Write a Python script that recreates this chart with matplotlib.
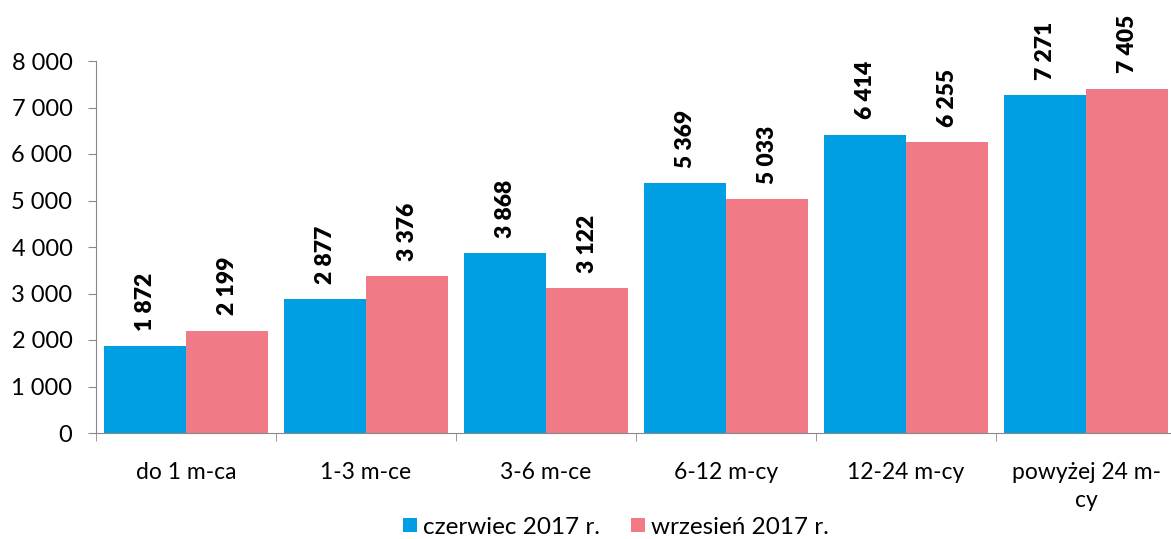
import matplotlib
matplotlib.use("Agg")
import matplotlib.pyplot as plt
import numpy as np

categories = ["do 1 m-ca", "1-3 m-ce", "3-6 m-ce", "6-12 m-cy", "12-24 m-cy", "powyżej 24 m-\ncy"]
czerwiec = [1872, 2877, 3868, 5369, 6414, 7271]
wrzesien = [2199, 3376, 3122, 5033, 6255, 7405]
series_names = ["czerwiec 2017 r.", "wrzesień 2017 r."]
colors = ["#009FE3", "#F07A85"]

plt.rcParams['font.family'] = ['Lato', 'DejaVu Sans']

fig = plt.figure(figsize=(11.71, 5.39), dpi=100)
ax = fig.add_axes([96/1171, 1-433/539, 1080/1171, 372/539])

x = np.arange(len(categories))
w = 82/180
b1 = ax.bar(x - w/2, czerwiec, w, color=colors[0], label=series_names[0])
b2 = ax.bar(x + w/2, wrzesien, w, color=colors[1], label=series_names[1])

def fmt(v):
    return f"{v:,}".replace(",", " ")

for bars, vals in ((b1, czerwiec), (b2, wrzesien)):
    for r, v in zip(bars, vals):
        ax.annotate(fmt(v), (r.get_x() + r.get_width()/2, v), xytext=(0, 11),
                    textcoords="offset points", rotation=90, ha="center", va="bottom",
                    fontsize=16.5, fontweight="heavy", annotation_clip=False)

ax.set_xlim(-0.5, len(categories) - 0.5)
ax.set_ylim(0, 8000)
ax.set_yticks(np.arange(0, 8001, 1000))
ax.set_yticklabels([fmt(v) for v in range(0, 8001, 1000)], fontsize=17)
ax.set_xticks(x)
ax.set_xticklabels(categories, fontsize=16.5, linespacing=1.4)
ax.set_xticks(np.arange(-0.5, len(categories)), minor=True)
ax.tick_params(axis="x", which="major", length=0, pad=21)
ax.tick_params(axis="x", which="minor", length=6, color="#888888")
ax.tick_params(axis="y", length=6, color="#888888", pad=11)
for s in ("top", "right"):
    ax.spines[s].set_visible(False)
for s in ("left", "bottom"):
    ax.spines[s].set_color("#888888")

fig.legend(handles=[b1, b2], labels=series_names, loc="center", bbox_to_anchor=(616/1171, 1-527/539),
           ncol=2, frameon=False, fontsize=17.5, handlelength=0.55, handleheight=0.55,
           handletextpad=0.25, columnspacing=1.3)

fig.savefig("out.png", dpi=100)
